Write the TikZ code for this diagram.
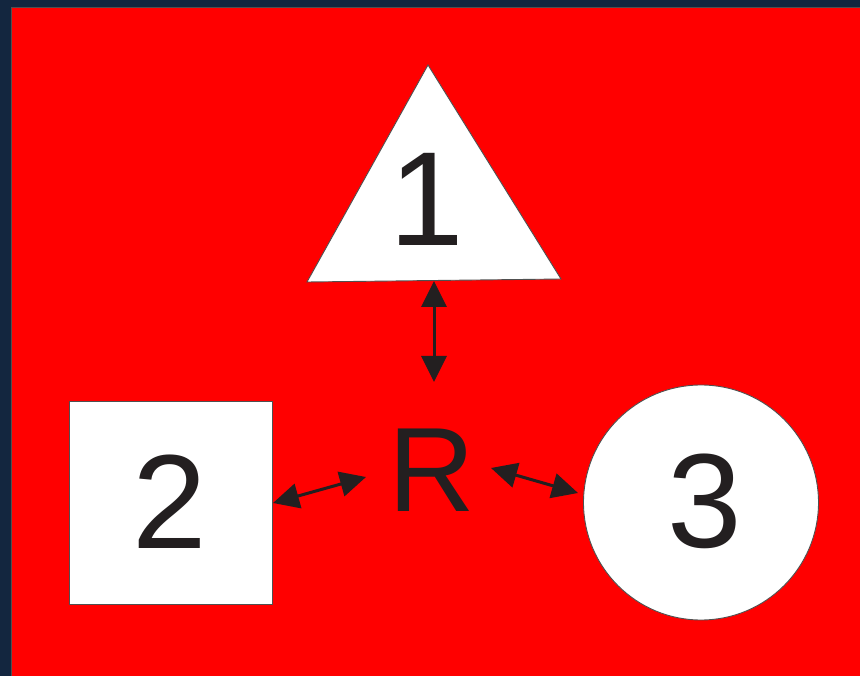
\documentclass[tikz,border=0pt]{standalone}
\usepackage{fontspec}
\setmainfont{Liberation Sans}
\usetikzlibrary{arrows.meta}
\definecolor{navy}{HTML}{13263F}
\definecolor{ink}{HTML}{231F20}
\definecolor{edge}{HTML}{505050}
\tikzset{
  shapebox/.style={draw=edge, line width=0.9pt, fill=white},
  digit/.style={inner sep=0pt, text=ink, font=\fontsize{134}{134}\selectfont},
  bigletter/.style={inner sep=0pt, text=ink, font=\fontsize{120}{120}\selectfont},
  link/.style={draw=ink, line width=3pt, {Triangle[length=26pt 0,width=25pt 0]}-{Triangle[length=26pt 0,width=25pt 0]}}
}
\begin{document}
\begin{tikzpicture}[x=1pt,y=-1pt]
\fill[navy] (0,0) rectangle (860,676);
\useasboundingbox (0,0) rectangle (860,676);
\fill[red, draw=edge, line width=1pt] (11,8) rectangle (862,678);
% triangle
\coordinate (ta) at (428,65);
\coordinate (tl) at (307,282);
\coordinate (tr) at (561,279);
\draw[shapebox] (ta) -- (tl) -- (tr) -- cycle;
\node[digit] (one) at (426.5,199) {1};
% square
\node[shapebox, minimum size=203pt, inner sep=0pt] (sq) at (170.5,503) {};
\node[digit] (two) at (170,502) {2};
% circle
\node[shapebox, circle, minimum size=235pt, inner sep=0pt] (ci) at (701,502.5) {};
\node[digit] (three) at (705,501.5) {3};
% R
\node[bigletter] (R) at (432,470) {R};
% arrow end points
\coordinate (a1s) at (434,281);
\coordinate (a1e) at (434,382);
\coordinate (a2s) at (273,503);
\coordinate (a2e) at (366,477);
\coordinate (a3s) at (491,468);
\coordinate (a3e) at (578,493);
\draw[link] (a1s) -- (a1e);
\draw[link] (a2s) -- (a2e);
\draw[link] (a3s) -- (a3e);
\end{tikzpicture}
\end{document}
